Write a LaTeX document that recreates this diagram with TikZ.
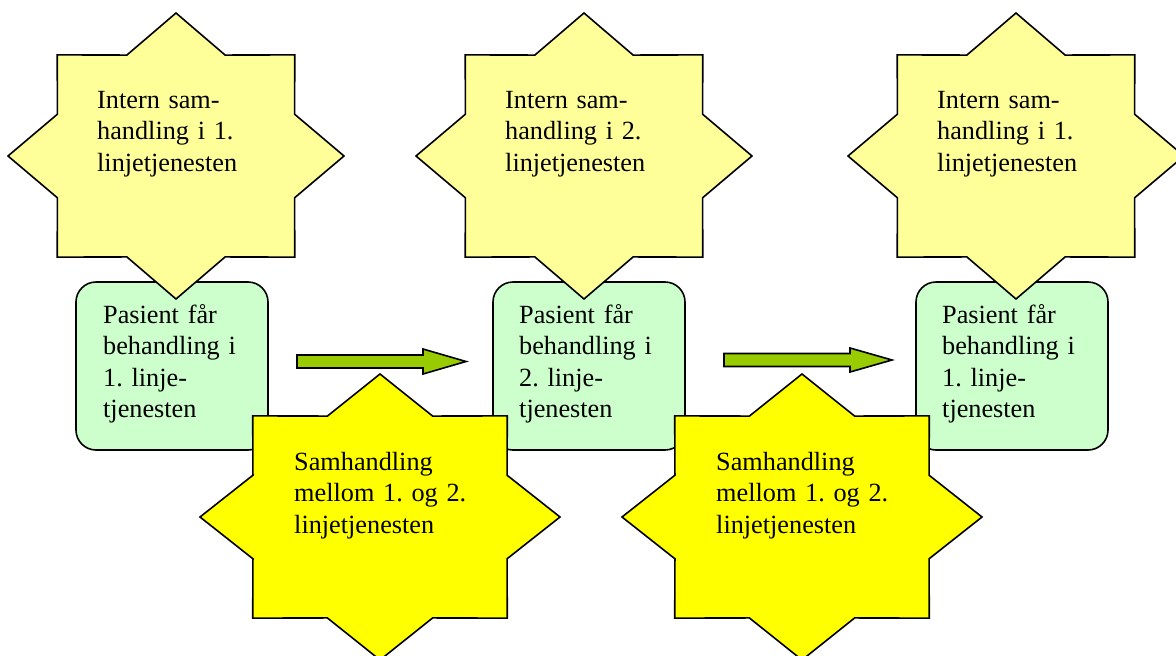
\documentclass[tikz,border=0pt]{standalone}
\usepackage{fontspec}
\setmainfont{Liberation Serif}
\definecolor{paleyellow}{HTML}{FFFF99}
\definecolor{brightyellow}{HTML}{FFFF00}
\definecolor{palegreen}{HTML}{CCFFCC}
\definecolor{arrowgreen}{HTML}{99CC00}
\tikzset{
  % eight-pointed star, #1 = horizontal and #2 = vertical outer radius
  pics/eightstar/.style args={#1/#2}{code={
    \draw[pic actions] plot[variable=\k, samples at={0,...,15}]
      ({#1*(1-0.236*mod(\k,2))*cos(22.5*\k)}, {#2*(1-0.236*mod(\k,2))*sin(22.5*\k)}) -- cycle;
  }},
  innerstar/.style={fill=paleyellow, draw=black, line width=1.6pt, line join=miter},
  linkstar/.style={fill=brightyellow, draw=black, line width=1.6pt, line join=miter},
  carebox/.style={rectangle, rounded corners=20pt, fill=palegreen, draw=black,
    line width=1.6pt, minimum width=192pt, minimum height=168pt, inner sep=0pt},
  blockarrow/.style={fill=arrowgreen, draw=black, line width=1.6pt, line join=miter},
  label/.style={inner sep=0pt, anchor=base west, text width=260pt, align=left,
    font=\fontsize{26.25}{31.5}\selectfont\frenchspacing}
}
\begin{document}
\begin{tikzpicture}[x=1pt, y=-1pt]
\useasboundingbox (0,0) rectangle (1176,656);

% treatment boxes
\node[carebox] (b1) at (172,366) {};
\node[carebox] (b2) at (589,366) {};
\node[carebox] (b3) at (1012,366) {};
\node[label] (tb1) at (103,323) {Pasient får\\behandling i\\1. linje-\\tjenesten};
\node[label] (tb2) at (519,323) {Pasient får\\behandling i\\2. linje-\\tjenesten};
\node[label] (tb3) at (942,323) {Pasient får\\behandling i\\1. linje-\\tjenesten};

% flow arrows between the boxes
\draw[blockarrow] (297,355) -- (423,355) -- (423,349) -- (466,361.5)
  -- (423,374) -- (423,368) -- (297,368) -- cycle;
\draw[blockarrow] (724,353.5) -- (850,353.5) -- (850,348) -- (892,360)
  -- (850,372) -- (850,366.5) -- (724,366.5) -- cycle;

% internal cooperation stars
\coordinate (s1) at (176,156);
\coordinate (s2) at (584,156);
\coordinate (s3) at (1016,156);
\pic[innerstar] at (s1) {eightstar=168/143};
\pic[innerstar] at (s2) {eightstar=168/143};
\pic[innerstar] at (s3) {eightstar=168/143};
\node[label] (ts1) at (97,108) {Intern sam-\\handling i 1.\\linjetjenesten};
\node[label] (ts2) at (505,108) {Intern sam-\\handling i 2.\\linjetjenesten};
\node[label] (ts3) at (937,108) {Intern sam-\\handling i 1.\\linjetjenesten};

% cooperation between service levels
\coordinate (s4) at (380,517);
\coordinate (s5) at (802,517);
\pic[linkstar] at (s4) {eightstar=180/143};
\pic[linkstar] at (s5) {eightstar=180/143};
\node[label] (ts4) at (294,470) {Samhandling\\mellom 1. og 2.\\linjetjenesten};
\node[label] (ts5) at (716,470) {Samhandling\\mellom 1. og 2.\\linjetjenesten};
\end{tikzpicture}
\end{document}
